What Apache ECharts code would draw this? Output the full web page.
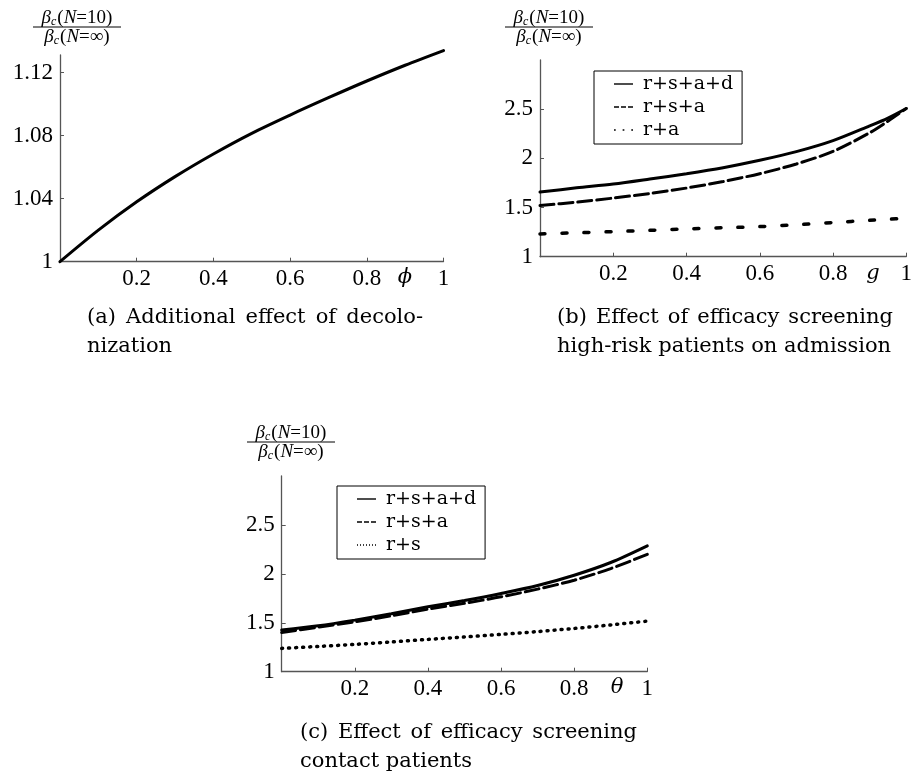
<!doctype html>
<html>
<head>
  <meta charset="utf-8">
  <title>beta_c ratio panels</title>
  <script src="https://cdn.jsdelivr.net/npm/echarts@6/dist/echarts.min.js"></script>
  <style>
    html, body { margin: 0; padding: 0; background: #fff; }
    #main { width: 915px; height: 776px; }
  </style>
</head>
<body>
  <div id="main"></div>
  <script>
    // ---- data ----
    // (a) decolonization, x = phi
    var phiX = [0, 0.1, 0.2, 0.3, 0.4, 0.5, 0.6, 0.7, 0.8, 0.9, 1];
    var decolY = [1.0, 1.020, 1.038, 1.054, 1.0684, 1.0815, 1.0931, 1.1041, 1.1147, 1.1247, 1.134];

    // (b) screening high-risk on admission, x = g
    var gX = [0, 0.1, 0.2, 0.3, 0.4, 0.5, 0.6, 0.7, 0.8, 0.9, 0.95, 1];
    var admRSAD = [1.657, 1.70, 1.739, 1.79, 1.844, 1.905, 1.98, 2.068, 2.18, 2.33, 2.41, 2.507];
    var admRSA = [1.52, 1.555, 1.596, 1.643, 1.698, 1.765, 1.844, 1.943, 2.071, 2.26, 2.378, 2.507];
    var admRA = [1.232, 1.243, 1.255, 1.268, 1.283, 1.294, 1.306, 1.325, 1.347, 1.37, 1.38, 1.392];

    // (c) screening contact patients, x = theta
    var thX = [0, 0.1, 0.2, 0.3, 0.4, 0.5, 0.6, 0.7, 0.8, 0.9, 1];
    var conRSAD = [1.425, 1.469, 1.527, 1.592, 1.663, 1.728, 1.80, 1.881, 1.986, 2.116, 2.286];
    var conRSA = [1.401, 1.456, 1.51, 1.571, 1.639, 1.70, 1.765, 1.844, 1.935, 2.054, 2.20];
    var conRS = [1.238, 1.258, 1.279, 1.304, 1.33, 1.355, 1.381, 1.41, 1.442, 1.478, 1.517];

    var xTicks = [0.2, 0.4, 0.6, 0.8, 1];
    var yTicksA = [1, 1.04, 1.08, 1.12];
    var yTicksBC = [1, 1.5, 2, 2.5];

    var captions = [
      { lines: ['(a) Additional effect of decolo-', 'nization'], x0: 87, x1: 423, y: 318 },
      { lines: ['(b) Effect of efficacy screening', 'high-risk patients on admission'], x0: 557, x1: 893, y: 318 },
      { lines: ['(c) Effect of efficacy screening', 'contact patients'], x0: 300, x1: 637, y: 733 }
    ];

    var serif = '"Liberation Serif", "DejaVu Serif", serif';
    var capFont = '"DejaVu Serif", serif';
    var capSize = 21;
    var capLead = 29;

    // legend key glyphs (thin line samples)
    var keySolid = 'path://M0,0h19v1h-19z';
    var keyDash = 'path://M0,0h5v1h-5z M7,0h5v1h-5z M14,0h5v1h-5z';
    var keyDotWide = 'path://M1,0h1.5v1h-1.5z M8.5,0h1.5v1h-1.5z M16,0h1.5v1h-1.5z';
    var keyDotFine = 'path://M0,0h1v1h-1z M3,0h1v1h-1z M6,0h1v1h-1z M9,0h1v1h-1z M12,0h1v1h-1z M15,0h1v1h-1z M18,0h1v1h-1z';

    function pairs(xs, ys) {
      return xs.map(function (x, i) { return [x, ys[i]]; });
    }

    function xAxisFor(idx) {
      return {
        type: 'value', gridIndex: idx, min: 0, max: 1, interval: 0.2,
        axisLine: { lineStyle: { color: '#555', width: 1.3 } },
        axisTick: { inside: true, length: 4, customValues: xTicks, lineStyle: { color: '#555' } },
        axisLabel: { customValues: xTicks, color: '#000', fontFamily: serif, fontSize: 23, margin: 6 },
        splitLine: { show: false }
      };
    }

    function yAxisFor(idx, min, max, interval, ticks) {
      return {
        type: 'value', gridIndex: idx, min: min, max: max, interval: interval,
        axisLine: { show: true, lineStyle: { color: '#555', width: 1.3 } },
        axisTick: { show: true, inside: true, length: 4, customValues: ticks, lineStyle: { color: '#555' } },
        axisLabel: { customValues: ticks, color: '#000', fontFamily: serif, fontSize: 23, margin: 7 },
        splitLine: { show: false }
      };
    }

    function lineSeries(name, idx, data, dash, width) {
      return {
        name: name, type: 'line', xAxisIndex: idx, yAxisIndex: idx,
        data: data, symbol: 'none', smooth: 0.3, clip: false,
        lineStyle: { color: '#000', width: width || 3, type: dash || 'solid', cap: 'round' },
        itemStyle: { color: '#000' }
      };
    }

    // y label: beta_c(N=10) / beta_c(N=inf)
    function fraction(cx, cy) {
      var rich = {
        b: { fontFamily: serif, fontStyle: 'italic', fontSize: 19, lineHeight: 20 },
        s: { fontFamily: serif, fontStyle: 'italic', fontSize: 12, verticalAlign: 'bottom', lineHeight: 20, padding: [0, 1, 0, 0] },
        p: { fontFamily: serif, fontSize: 19, lineHeight: 20 },
        i: { fontFamily: serif, fontStyle: 'italic', fontSize: 19, lineHeight: 20 }
      };
      return [
        { type: 'text', x: cx, y: cy - 9, style: { text: '{b|β}{s|c}{p|(}{i|N}{p|=10)}', rich: rich, align: 'center', verticalAlign: 'middle', fill: '#000' } },
        { type: 'line', shape: { x1: cx - 44, y1: cy, x2: cx + 44, y2: cy }, style: { stroke: '#000', lineWidth: 1 } },
        { type: 'text', x: cx, y: cy + 10, style: { text: '{b|β}{s|c}{p|(}{i|N}{p|=∞)}', rich: rich, align: 'center', verticalAlign: 'middle', fill: '#000' } }
      ];
    }

    function varName(ch, x, y) {
      return { type: 'text', x: x, y: y, style: { text: ch, fontFamily: '"DejaVu Serif", serif', fontStyle: 'italic', fontSize: 21, fill: '#000', align: 'center', verticalAlign: 'middle' } };
    }

    // justified caption text like the paper's
    function captionGraphics(c) {
      var ctx = document.createElement('canvas').getContext('2d');
      ctx.font = capSize + 'px ' + capFont;
      var out = [];
      c.lines.forEach(function (line, li) {
        var y = c.y + li * capLead;
        var st = { fontFamily: capFont, fontSize: capSize, fill: '#000', verticalAlign: 'middle' };
        if (li === c.lines.length - 1) {
          out.push({ type: 'text', x: c.x0, y: y, style: Object.assign({ text: line }, st) });
          return;
        }
        var words = line.split(' ');
        var widths = words.map(function (w) { return ctx.measureText(w).width; });
        var sum = widths.reduce(function (a, b) { return a + b; }, 0);
        var gap = (c.x1 - c.x0 - sum) / (words.length - 1);
        var x = c.x0;
        words.forEach(function (w, i) {
          out.push({ type: 'text', x: x, y: y, style: Object.assign({ text: w }, st) });
          x += widths[i] + gap;
        });
      });
      return out;
    }

    var graphics = []
      .concat(fraction(77, 27), fraction(549, 27), fraction(291, 442))
      .concat([varName('ϕ', 405, 278), varName('g', 873, 274), varName('θ', 617, 688)]);
    captions.forEach(function (c) { graphics = graphics.concat(captionGraphics(c)); });

    var legendBase = {
      orient: 'vertical',
      backgroundColor: '#fff',
      borderColor: '#000',
      borderWidth: 1,
      borderRadius: 0,
      padding: [3, 9, 4, 20],
      itemWidth: 19,
      itemHeight: 1.4,
      itemGap: 3,
      symbolKeepAspect: false,
      itemStyle: { color: '#000', borderWidth: 0 },
      textStyle: { fontFamily: capFont, fontSize: 19, lineHeight: 20, color: '#000', padding: [0, 0, 0, 5] },
      selectedMode: false
    };

    var option = {
      animation: false,
      backgroundColor: '#fff',
      grid: [
        { left: 60, top: 55, width: 383.5, height: 206.7 },
        { left: 540, top: 60, width: 366.7, height: 196.7 },
        { left: 281.7, top: 476, width: 365.6, height: 195.7 }
      ],
      xAxis: [xAxisFor(0), xAxisFor(1), xAxisFor(2)],
      yAxis: [
        yAxisFor(0, 1, 1.1312, 0.04, yTicksA),
        yAxisFor(1, 1, 3, 0.5, yTicksBC),
        yAxisFor(2, 1, 3, 0.5, yTicksBC)
      ],
      legend: [
        Object.assign({}, legendBase, {
          left: 594, top: 71,
          data: [
            { name: 'r+s+a+d', icon: keySolid },
            { name: 'r+s+a', icon: keyDash },
            { name: 'r+a', icon: keyDotWide }
          ]
        }),
        Object.assign({}, legendBase, {
          left: 337, top: 486,
          data: [
            { name: 'r+s+a+d', icon: keySolid },
            { name: 'r+s+a', icon: keyDash },
            { name: 'r+s', icon: keyDotFine }
          ]
        })
      ],
      graphic: graphics,
      series: [
        lineSeries('decol', 0, pairs(phiX, decolY), 'solid', 3),
        lineSeries('r+s+a+d', 1, pairs(gX, admRSAD), 'solid', 3),
        lineSeries('r+s+a', 1, pairs(gX, admRSA), [14, 5], 3),
        lineSeries('r+a', 1, pairs(gX, admRA), [5, 17], 3.5),
        lineSeries('r+s+a+d', 2, pairs(thX, conRSAD), 'solid', 3),
        lineSeries('r+s+a', 2, pairs(thX, conRSA), [14, 5], 3),
        lineSeries('r+s', 2, pairs(thX, conRS), [1, 6], 3.5)
      ]
    };

    var chart = echarts.init(document.getElementById('main'), null, { renderer: 'canvas' });
    chart.setOption(option);
  </script>
</body>
</html>
